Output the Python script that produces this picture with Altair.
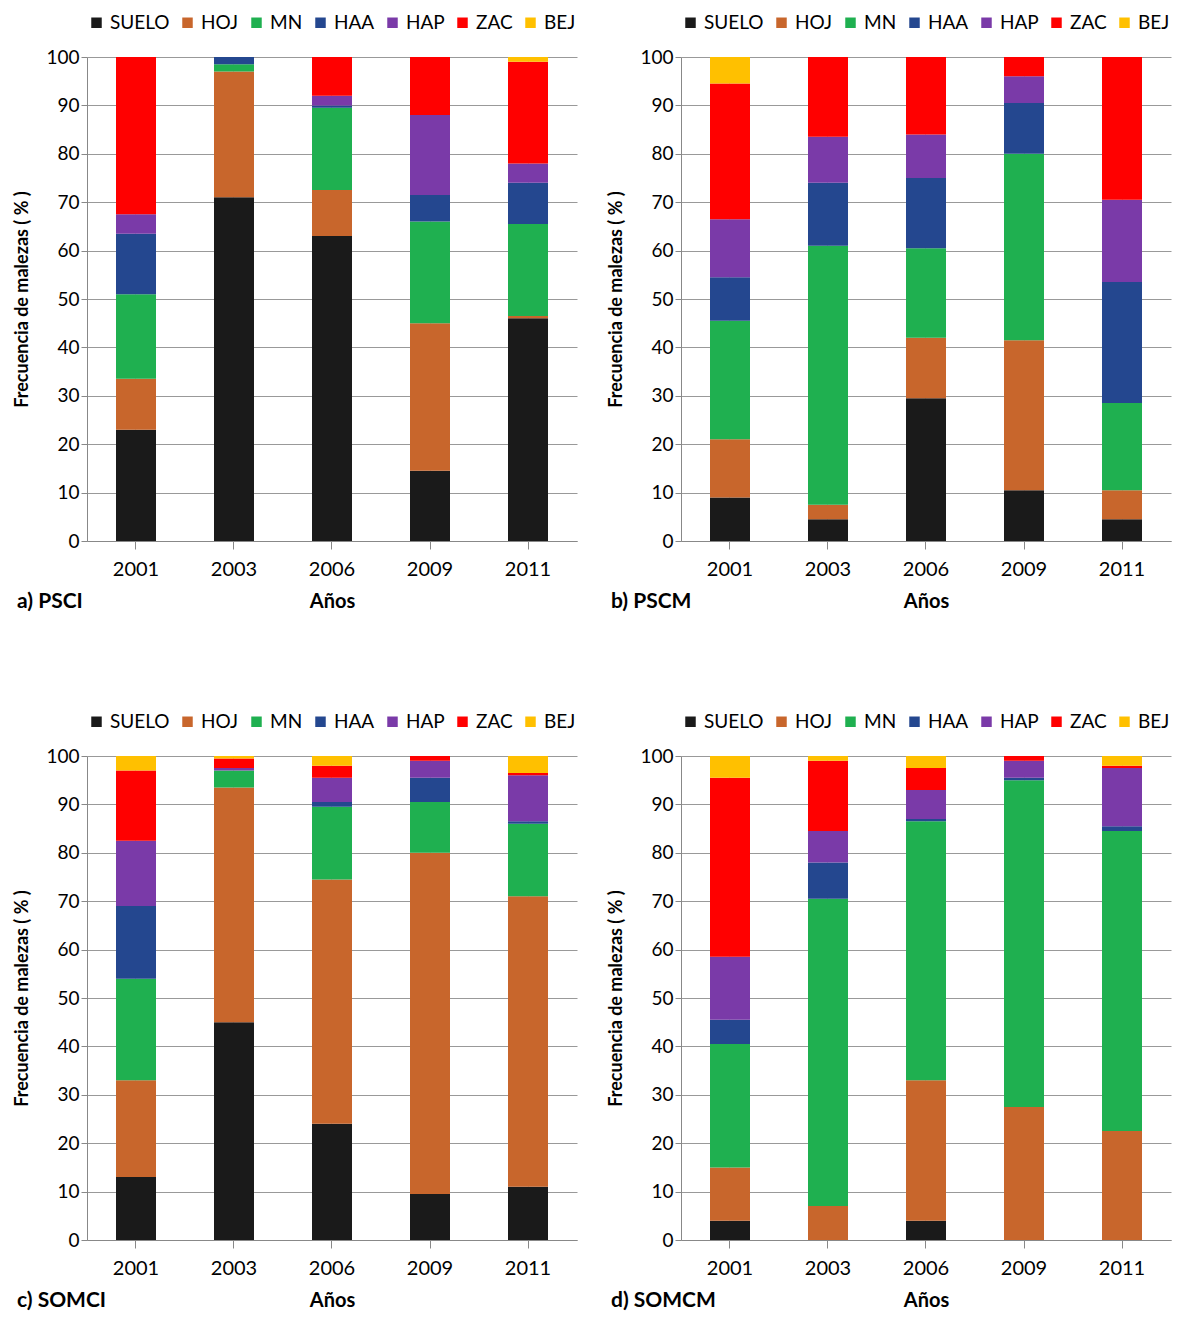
import altair as alt
import pandas as pd

years = ["2001", "2003", "2006", "2009", "2011"]
groups = ["SUELO", "HOJ", "MN", "HAA", "HAP", "ZAC", "BEJ"]
colors = ["#1a1a1a", "#c8662c", "#1fb050", "#24478f", "#7a3aa8", "#ff0000", "#ffc000"]

# percent per group, one list per year (SUELO..BEJ)
psci = [
    [23, 10.5, 17.5, 12.5, 4, 32.5, 0],
    [71, 26, 1.5, 1.5, 0, 0, 0],
    [63, 9.5, 17, 0.5, 2, 8, 0],
    [14.5, 30.5, 21, 5.5, 16.5, 12, 0],
    [46, 0.5, 19, 8.5, 4, 21, 1],
]
pscm = [
    [9, 12, 24.5, 9, 12, 28, 5.5],
    [4.5, 3, 53.5, 13, 9.5, 16.5, 0],
    [29.5, 12.5, 18.5, 14.5, 9, 16, 0],
    [10.5, 31, 38.5, 10.5, 5.5, 4, 0],
    [4.5, 6, 18, 25, 17, 29.5, 0],
]
somci = [
    [13, 20, 21, 15, 13.5, 14.5, 3],
    [45, 48.5, 3.5, 0, 0.5, 2, 0.5],
    [24, 50.5, 15, 1, 5, 2.5, 2],
    [9.5, 70.5, 10.5, 5, 3.5, 1, 0],
    [11, 60, 15, 0.5, 9.5, 0.5, 3.5],
]
somcm = [
    [4, 11, 25.5, 5, 13, 37, 4.5],
    [0, 7, 63.5, 7.5, 6.5, 14.5, 1],
    [4, 29, 53.5, 0.5, 6, 4.5, 2.5],
    [0, 27.5, 67.5, 0.5, 3.5, 1, 0],
    [0, 22.5, 62, 1, 12, 0.5, 2],
]

FONT = "Lato"


def panel(values, label):
    rows = []
    for yr, vals in zip(years, values):
        for i, (g, v) in enumerate(zip(groups, vals)):
            rows.append({"year": yr, "group": g, "idx": i, "value": v})
    df = pd.DataFrame(rows)
    bars = alt.Chart(df).mark_bar(size=40).encode(
        x=alt.X("year:N", title="Años", sort=years,
                axis=alt.Axis(labelAngle=0, labelFontSize=20, titleFontSize=20,
                              titleFontWeight="bold", ticks=True, tickSize=8,
                              labelPadding=10, titlePadding=12, domainColor="#888")),
        y=alt.Y("value:Q", stack="zero", title="Frecuencia de malezas ( % )",
                scale=alt.Scale(domain=[0, 100], nice=False),
                axis=alt.Axis(values=list(range(0, 101, 10)), labelFontSize=19,
                              titleFontSize=18, titleFontWeight="bold", titlePadding=14,
                              tickSize=6, gridColor="#999", domainColor="#888")),
        color=alt.Color("group:N", sort=groups,
                        scale=alt.Scale(domain=groups, range=colors),
                        legend=alt.Legend(orient="top", direction="horizontal", title=None,
                                          symbolType="square", symbolSize=110,
                                          labelFontSize=19, columnPadding=8,
                                          offset=24)),
        order=alt.Order("idx:Q"),
    )
    tag = alt.Chart(pd.DataFrame({"t": [label]})).mark_text(
        align="left", fontSize=21, fontWeight="bold", font=FONT
    ).encode(text="t:N", x=alt.value(-70), y=alt.value(545))
    return alt.layer(bars, tag).properties(width=490, height=484)


top = alt.hconcat(panel(psci, "a) PSCI"), panel(pscm, "b) PSCM"), spacing=30).resolve_scale(color="independent")
bottom = alt.hconcat(panel(somci, "c) SOMCI"), panel(somcm, "d) SOMCM"), spacing=30).resolve_scale(color="independent")
chart = alt.vconcat(top, bottom, spacing=100).resolve_scale(color="independent").configure(
    font=FONT
).configure_view(stroke=None).configure_axis(grid=True)

chart.save("out.html", embed_options={"renderer": "svg", "actions": False})
